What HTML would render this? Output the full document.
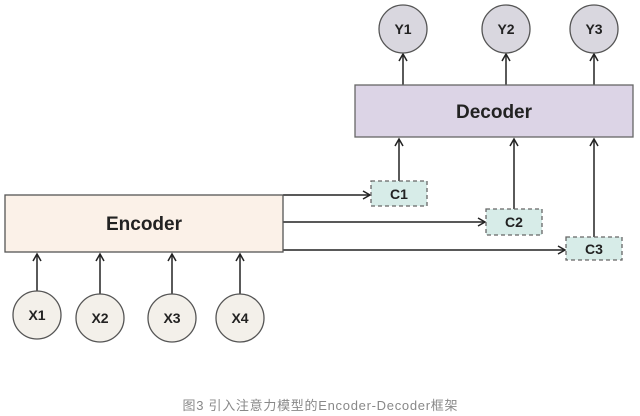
<!DOCTYPE html>
<html><head><meta charset="utf-8"><style>
html,body{margin:0;padding:0;background:#fff;width:640px;height:416px;overflow:hidden}
</style></head><body>
<svg width="640" height="416" xmlns="http://www.w3.org/2000/svg" font-family="Liberation Sans, DejaVu Sans, sans-serif">
<defs><marker id="a" markerWidth="10" markerHeight="10" refX="8" refY="5" orient="auto" markerUnits="userSpaceOnUse"><path d="M1,1 L8,5 L1,9" fill="none" stroke="#222" stroke-width="1.5"/></marker></defs>
<g stroke="#222" stroke-width="1.5" fill="none" marker-end="url(#a)">
<line x1="403" y1="85" x2="403" y2="54"/>
<line x1="506" y1="85" x2="506" y2="54"/>
<line x1="594" y1="85" x2="594" y2="54"/>
<line x1="399" y1="181" x2="399" y2="139"/>
<line x1="514" y1="209" x2="514" y2="139"/>
<line x1="594" y1="237" x2="594" y2="139"/>
<line x1="283" y1="195" x2="370" y2="195"/>
<line x1="283" y1="222" x2="485" y2="222"/>
<line x1="283" y1="250" x2="565" y2="250"/>
<line x1="37" y1="292" x2="37" y2="254"/>
<line x1="100" y1="295" x2="100" y2="254"/>
<line x1="172" y1="295" x2="172" y2="254"/>
<line x1="240" y1="295" x2="240" y2="254"/>
</g>
<g stroke="#555" stroke-width="1.3" fill="#d9d7df">
<circle cx="403" cy="29" r="24"/><circle cx="506" cy="29" r="24"/><circle cx="594" cy="29" r="24"/>
</g>
<rect x="355" y="85" width="278" height="52" fill="#dcd4e6" stroke="#666" stroke-width="1.3"/>
<rect x="5" y="195" width="278" height="57" fill="#fbf1e8" stroke="#555" stroke-width="1.3"/>
<g fill="#d7ece8" stroke="#666" stroke-width="1.3" stroke-dasharray="4,3">
<rect x="371" y="181" width="56" height="25"/><rect x="486" y="209" width="56" height="26"/><rect x="566" y="237" width="56" height="23"/>
</g>
<g stroke="#555" stroke-width="1.3" fill="#f3f0ea">
<circle cx="37" cy="315" r="24"/><circle cx="100" cy="318" r="24"/><circle cx="172" cy="318" r="24"/><circle cx="240" cy="318" r="24"/>
</g>
<g font-weight="bold" fill="#222" text-anchor="middle">
<text x="494" y="118" font-size="19">Decoder</text>
<text x="144" y="230" font-size="19">Encoder</text>
<g font-size="14">
<text x="403" y="34">Y1</text><text x="506" y="34">Y2</text><text x="594" y="34">Y3</text>
<text x="399" y="199">C1</text><text x="514" y="227">C2</text><text x="594" y="254">C3</text>
<text x="37" y="320">X1</text><text x="100" y="323">X2</text><text x="172" y="323">X3</text><text x="240" y="323">X4</text>
</g></g>
<text x="320" y="410" font-size="13" fill="#888" text-anchor="middle" textLength="275" font-family="Liberation Sans, Noto Sans CJK SC, sans-serif">图3 引入注意力模型的Encoder-Decoder框架</text>
</svg>
</body></html>
